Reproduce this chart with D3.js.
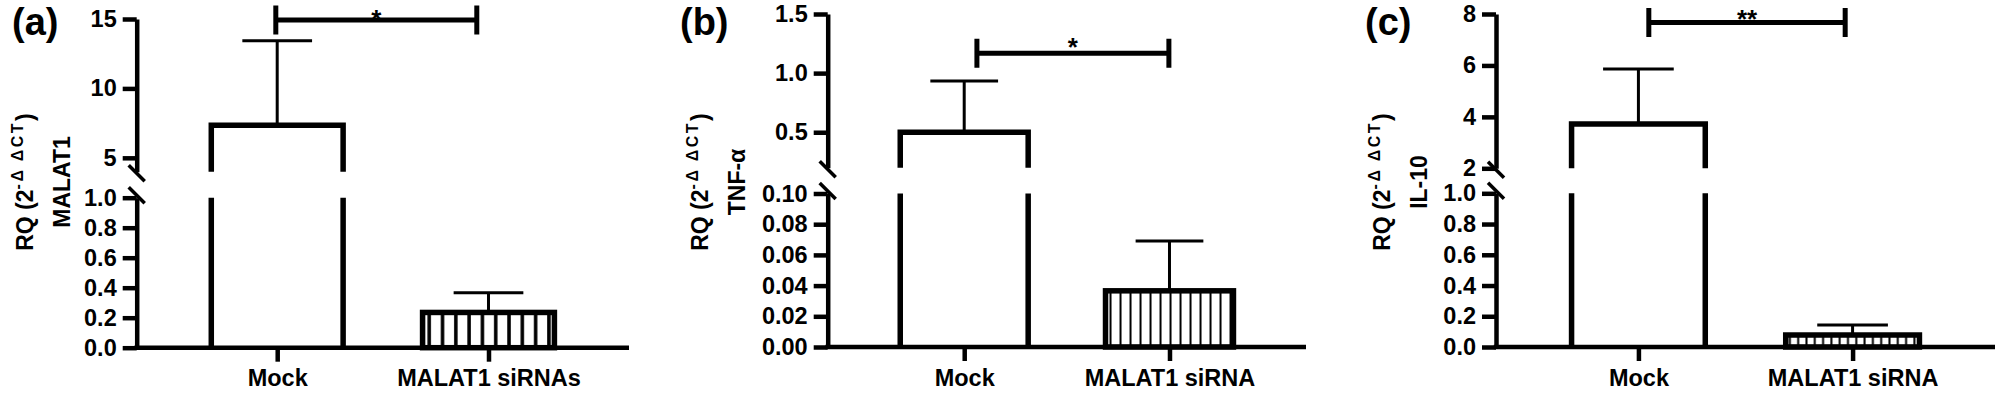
<!DOCTYPE html>
<html><head><meta charset="utf-8">
<script src="https://cdn.jsdelivr.net/npm/d3@7"></script>
<style>
body{margin:0;background:#fff}
svg{display:block;background:#fff}
text{font-family:"Liberation Sans",Arial,sans-serif;font-weight:bold;fill:#000}
</style>
</head><body>
<svg id="chart" width="2000" height="393"></svg>
<script>
// ---------- data ----------
const panelLabels = ["(a)", "(b)", "(c)"];
const genes = ["MALAT1", "TNF-α", "IL-10"];
const categoriesA = ["Mock", "MALAT1 siRNAs"];
const categoriesB = ["Mock", "MALAT1 siRNA"];
const categoriesC = ["Mock", "MALAT1 siRNA"];
const meansA = [7.35, 0.235];
const errorsA = [6.09, 0.132];
const meansB = [0.50, 0.0366];
const errorsB = [0.434, 0.0324];
const meansC = [3.72, 0.078];
const errorsC = [2.14, 0.065];
const lowerTicksA = [0, 0.2, 0.4, 0.6, 0.8, 1.0];
const upperTicksA = [5, 10, 15];
const lowerTicksB = [0, 0.02, 0.04, 0.06, 0.08, 0.10];
const upperTicksB = [0.5, 1.0, 1.5];
const lowerTicksC = [0, 0.2, 0.4, 0.6, 0.8, 1.0];
const upperTicksC = [2, 4, 6, 8];
const lowerDomains = [[0, 1], [0, 0.10], [0, 1]];
const upperDomains = [[4, 15], [0.2, 1.5], [2, 8]];
const significance = ["*", "*", "**"];
const bracketValues = [14.93, 1.167, 7.67];

// ---------- layout (positions / styles) ----------
const layout = [
  {axisX:136.7, axisEnd:629, upper:[171.7,19], lower:[347.7,197.7], lowerFmt:".1f", upperFmt:"d",
   title:[103.7,66.7], label:124.7, bracketOff:[-1.4,-11.7], hatch:{gap:13.3,w:3.5}},
  {axisX:827.7, axisEnd:1306, upper:[167.7,14], lower:[347,193.5], lowerFmt:".2f", upperFmt:".1f",
   title:[119.7,82.7], label:147.7, bracketOff:[12.7,-0.6], hatch:{gap:10,w:2}},
  {axisX:1496, axisEnd:1995, upper:[168.3,14], lower:[347,193.3], lowerFmt:".1f", upperFmt:"d",
   title:[106,69.3], label:131, bracketOff:[10.4,-7.4], hatch:{gap:8.3,w:2}}
];

const panels = [
  {cats:categoriesA, means:meansA, errs:errorsA, lt:lowerTicksA, ut:upperTicksA},
  {cats:categoriesB, means:meansB, errs:errorsB, lt:lowerTicksB, ut:upperTicksB},
  {cats:categoriesC, means:meansC, errs:errorsC, lt:lowerTicksC, ut:upperTicksC}
];

const svg = d3.select("#chart");
const defs = svg.append("defs");
const AXW = 4.5, BARW = 5.5, ERRW = 3, TICK = 14, FS = 23.5;

panels.forEach((p, i) => {
  const L = layout[i];
  const g = svg.append("g");
  const x = d3.scalePoint().domain(p.cats).range([L.axisX, L.axisEnd]).padding(0.665);
  const step = x.step();
  const yLow = d3.scaleLinear().domain(lowerDomains[i]).range(L.lower);
  const yUp = d3.scaleLinear().domain(upperDomains[i]).range(L.upper);
  const lowMax = lowerDomains[i][1];
  const y = v => v <= lowMax ? yLow(v) : yUp(v);
  const y0 = yLow(0);
  const bw = 0.65 * step - BARW;

  // hatch pattern
  const pat = defs.append("pattern").attr("id", "hatch" + i)
    .attr("patternUnits", "userSpaceOnUse")
    .attr("width", L.hatch.gap).attr("height", 400)
    .attr("x", x(p.cats[1]) - bw / 2);
  pat.append("rect").attr("width", L.hatch.gap).attr("height", 400).attr("fill", "#fff");
  pat.append("rect").attr("x", L.hatch.gap / 2 - L.hatch.w / 2).attr("width", L.hatch.w)
    .attr("height", 400).attr("fill", "#000");

  // bars
  p.cats.forEach((c, j) => {
    const v = p.means[j];
    const left = x(c) - bw / 2, right = x(c) + bw / 2;
    if (v > lowMax) {
      g.append("rect").attr("x", left).attr("y", yUp(v)).attr("width", bw)
        .attr("height", yUp(upperDomains[i][0]) - yUp(v)).attr("fill", "#fff");
      g.append("path")
        .attr("d", `M${left},${y0}V${yLow(lowMax)}M${right},${y0}V${yLow(lowMax)}`)
        .attr("stroke", "#000").attr("stroke-width", BARW).attr("fill", "none");
      g.append("path")
        .attr("d", `M${left},${yUp(upperDomains[i][0])}V${yUp(v)}H${right}V${yUp(upperDomains[i][0])}`)
        .attr("stroke", "#000").attr("stroke-width", BARW).attr("fill", "none")
        .attr("stroke-linejoin", "miter");
    } else {
      g.append("rect").attr("x", left).attr("y", yLow(v)).attr("width", bw)
        .attr("height", y0 - yLow(v)).attr("fill", `url(#hatch${i})`)
        .attr("stroke", "#000").attr("stroke-width", BARW);
    }
    const top = v + p.errs[j];
    const cw = 0.165 * step;
    g.append("path")
      .attr("d", `M${x(c)},${y(v)}V${y(top)}M${x(c) - cw},${y(top)}H${x(c) + cw}`)
      .attr("stroke", "#000").attr("stroke-width", ERRW).attr("fill", "none");
  });

  // y axis segments
  const lowAxis = d3.axisLeft(yLow).tickValues(p.lt).tickFormat(d3.format(L.lowerFmt))
    .tickSizeOuter(0).tickSizeInner(TICK).tickPadding(6);
  const upAxis = d3.axisLeft(yUp).tickValues(p.ut).tickFormat(d3.format(L.upperFmt))
    .tickSizeOuter(0).tickSizeInner(TICK).tickPadding(6);
  [lowAxis, upAxis].forEach(ax => {
    const a = g.append("g").attr("transform", `translate(${L.axisX},0)`).call(ax);
    a.select(".domain").attr("stroke", "#000").attr("stroke-width", AXW);
    a.selectAll(".tick line").attr("stroke", "#000").attr("stroke-width", AXW);
    a.selectAll(".tick text").attr("font-size", FS).attr("font-family", null).attr("fill", "#000");
  });
  // axis break slashes
  [yUp(upperDomains[i][0]) + 1.5, yLow(lowMax) - 2.5].forEach(yy => {
    g.append("line").attr("x1", L.axisX - 8).attr("y1", yy - 8)
      .attr("x2", L.axisX + 8).attr("y2", yy + 8)
      .attr("stroke", "#000").attr("stroke-width", 3.5);
  });

  // x axis
  const xa = g.append("g").attr("transform", `translate(0,${y0})`)
    .call(d3.axisBottom(x).tickSizeOuter(0).tickSizeInner(TICK).tickPadding(8));
  xa.select(".domain").attr("d", `M${L.axisX - AXW / 2},0H${L.axisEnd}`)
    .attr("stroke", "#000").attr("stroke-width", AXW);
  xa.selectAll(".tick line").attr("stroke", "#000").attr("stroke-width", AXW);
  xa.selectAll(".tick text").attr("font-size", FS).attr("font-family", null).attr("fill", "#000");

  // significance bracket
  const bx1 = x(p.cats[0]) + L.bracketOff[0], bx2 = x(p.cats[1]) + L.bracketOff[1];
  const by = yUp(bracketValues[i]);
  g.append("path")
    .attr("d", `M${bx1},${by}H${bx2}M${bx1},${by - 14.5}V${by + 14.5}M${bx2},${by - 14.5}V${by + 14.5}`)
    .attr("stroke", "#000").attr("stroke-width", 5).attr("fill", "none");
  const sfs = 26;
  const starC = Math.max(by - 12, 13);
  g.append("text").attr("x", (bx1 + bx2) / 2).attr("y", starC + 0.57 * sfs)
    .attr("text-anchor", "middle").attr("font-size", sfs).text(significance[i]);

  // y title
  const tY = 182;
  const t1 = g.append("text").attr("text-anchor", "middle").attr("font-size", 23)
    .attr("transform", `translate(${L.axisX - L.title[0]},${tY}) rotate(-90)`);
  t1.append("tspan").text("RQ (2");
  t1.append("tspan").attr("font-size", 16).attr("letter-spacing", 2.5).attr("dy", -10).text("-Δ ΔCT");
  t1.append("tspan").attr("dy", 10).text(")");
  g.append("text").attr("text-anchor", "middle").attr("font-size", 23)
    .attr("transform", `translate(${L.axisX - L.title[1]},${tY}) rotate(-90)`)
    .text(genes[i]);

  // panel label
  g.append("text").attr("x", L.axisX - L.label).attr("y", 35)
    .attr("font-size", 38).text(panelLabels[i]);
});
</script>
</body></html>
